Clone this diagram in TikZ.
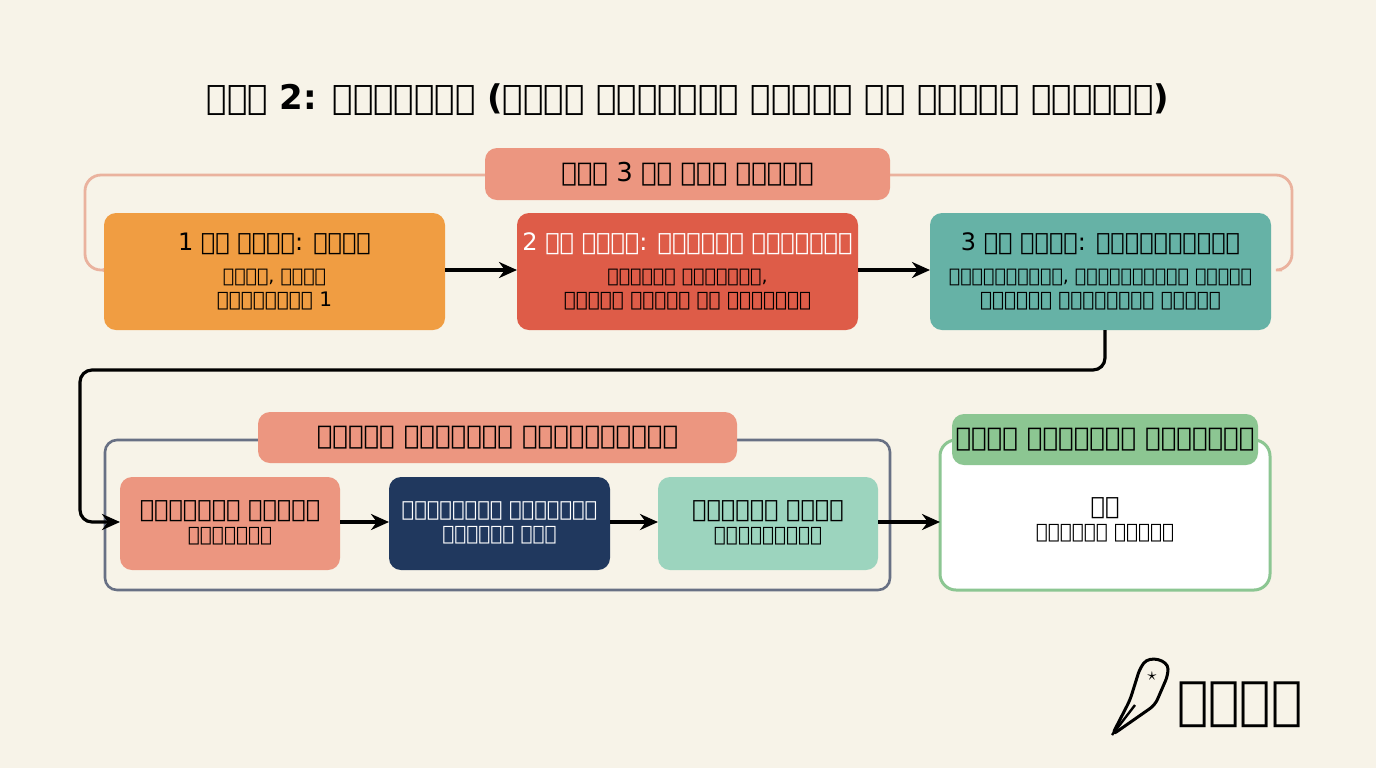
\documentclass[tikz,border=0pt]{standalone}
\usepackage{fontspec}
\setmainfont{DejaVu Sans}
\usetikzlibrary{arrows.meta}
\definecolor{bgc}{RGB}{247,243,232}
\definecolor{salmon}{RGB}{236,150,128}
\definecolor{lsalmon}{RGB}{234,178,158}
\definecolor{orng}{RGB}{240,157,66}
\definecolor{redb}{RGB}{222,92,72}
\definecolor{teal}{RGB}{102,178,166}
\definecolor{navy}{RGB}{32,56,94}
\definecolor{mint}{RGB}{156,212,190}
\definecolor{grn}{RGB}{140,198,146}
\definecolor{frame}{RGB}{104,112,132}
\tikzset{every picture/.style={line width=0.75pt}}
\tikzset{
  box/.style={rounded corners=6pt, draw=none, align=center, inner sep=0pt},
  conn/.style={-{Stealth[length=9pt,width=8pt]}, line width=1.6pt},
}
\begin{document}
\begin{tikzpicture}[x=0.5pt,y=0.5pt,yscale=-1]
\fill[bgc] (0,0) rectangle (1376,768);
\useasboundingbox (0,0) rectangle (1376,768);

% Title
\node (title) at (688,100) {\fontsize{17}{20}\selectfont\bfseries වටය 2: සැලැස්ම (විෂය නිර්දේශ ආවරණය සහ පූර්ව ඉගෙනුම)};

% Term timeline frame
\draw[lsalmon, line width=1.4pt, rounded corners=8pt, -{Stealth[length=7pt,width=7pt]}] (1282,270) -- (1292,270) -- (1292,175) -- (85,175) -- (85,270) -- (100,270);
\filldraw[box, fill=salmon] (485,148) rectangle (890,200);
\node (timeline) at (687.5,174) {\fontsize{13}{15}\selectfont වාර 3 හි කාල රේඛාව};

% Terms
\filldraw[box, fill=orng] (104,213) rectangle (445,330);
\node (t1) at (274.5,244) {\fontsize{12}{14}\selectfont 1 වන වාරය: පදනම};
\node[align=center] (t1b) at (274.5,290) {\fontsize{9.5}{13}\selectfont පදනම, පදනම\\ ගොඩනැගීම 1};
\filldraw[box, fill=redb] (517,213) rectangle (858,330);
\node[white] (t2) at (687.5,244) {\fontsize{12}{14}\selectfont 2 වන වාරය: ගැඹුරු අධ්‍යයනය};
\node[align=center] (t2b) at (687.5,290) {\fontsize{9.5}{13}\selectfont ගැඹුරු අධ්‍යයනය,\\ මූලික ගැඹුර සහ පිහිටීම};
\filldraw[box, fill=teal] (930,213) rectangle (1271,330);
\node (t3) at (1100.5,244) {\fontsize{12}{14}\selectfont 3 වන වාරය: පුනරීක්ෂණය};
\node[align=center] (t3b) at (1100.5,290) {\fontsize{9.5}{13}\selectfont පුනරීක්ෂණය, ප්‍රගතිශීලී මාර්ග\\ සිතියම සම්පූර්ණ කිරීම};
\coordinate (a1) at (445,270); \coordinate (a2) at (517,270);
\coordinate (a3) at (858,270); \coordinate (a4) at (930,270);
\draw[conn] (a1) -- (a2);
\draw[conn] (a3) -- (a4);

% Pre-learning group
\draw[frame, line width=1.3pt, rounded corners=6pt] (105,440) rectangle (890,590);
\filldraw[box, fill=salmon] (258,412) rectangle (737,463);
\node (pre) at (497.5,438) {\fontsize{13}{15}\selectfont\bfseries පූර්ව ඉගෙනුම් ක්‍රියාවලිය};
\filldraw[box, fill=salmon] (120,477) rectangle (340,570);
\node[align=center] (s1) at (230,523) {\fontsize{12}{16}\selectfont නිවසේදී පූර්ව\\ අධ්‍යයනය};
\filldraw[box, fill=navy] (389,477) rectangle (610,570);
\node[align=center, white] (s2) at (499.5,523) {\fontsize{10.5}{15}\selectfont සූදානම්ව පන්තියට\\ සහභාගී වීම};
\filldraw[box, fill=mint] (658,477) rectangle (878,570);
\node[align=center] (s3) at (768,523) {\fontsize{12}{16}\selectfont ගැඹුරු විෂය\\ ප්‍රගුණතාව};

% Contract
\filldraw[fill=white, draw=grn, line width=1.5pt, rounded corners=8pt] (940,440) rectangle (1270,590);
\filldraw[box, fill=grn] (952,414) rectangle (1258,465);
\node (con) at (1105,440) {\fontsize{13}{15}\selectfont\bfseries විෂය නිර්දේශ ගිවිසුම};
\node[align=center] (conb) at (1105,520) {\fontsize{12}{17}\selectfont සහ\\ ප්‍රගති පාලකය};

% Connectors
\coordinate (b3) at (1105,330); \coordinate (b4) at (120,522);
\draw[conn, rounded corners=6pt] (b3) -- (1105,370) -- (80,370) -- (80,522) -- (b4);
\coordinate (c1) at (340,522); \coordinate (c2) at (389,522);
\coordinate (c3) at (610,522); \coordinate (c4) at (658,522);
\coordinate (c5) at (878,522); \coordinate (c6) at (940,522);
\draw[conn] (c1) -- (c2);
\draw[conn] (c3) -- (c4);
\draw[conn] (c5) -- (c6);

% Logo
\draw[line width=1.5pt, rounded corners=3pt] (1112,735) -- (1130,700) -- (1140,668) .. controls (1150,655) and (1168,660) .. (1168,675) -- (1155,705) -- cycle;
\draw[line width=1.2pt] (1112,735) -- (1135,705);
\node (star) at (1152,676) {\small$\star$};
\node[anchor=west] (logo) at (1170,705) {\fontsize{26}{30}\selectfont\bfseries ඉදසර};
\end{tikzpicture}
\end{document}
